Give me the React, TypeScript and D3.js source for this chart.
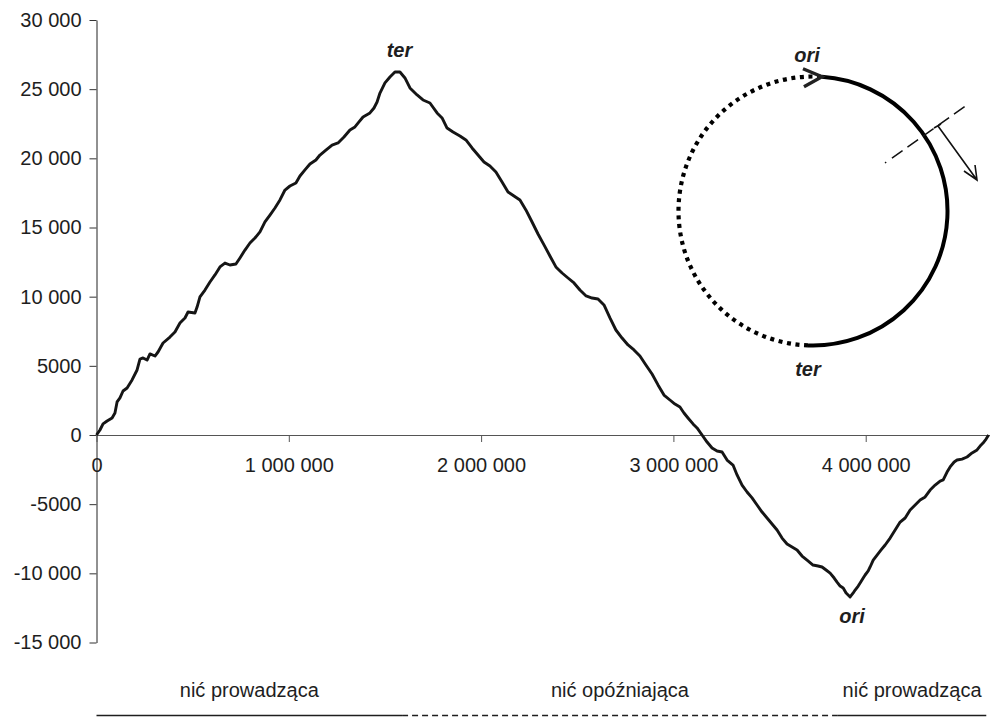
import React, { useEffect, useRef } from "react";
import * as d3 from "d3";

// cumulative GC skew along the genome (position in kb, skew value)
const positionKb = [
  0, 18, 34, 55, 81, 96, 107, 122, 138, 159, 185, 211, 226, 242, 263, 278, 304, 320, 346, 382,
  408, 434, 460, 476, 512, 523, 538, 564, 590, 616, 642, 668, 694, 725, 746, 772, 798, 824, 850, 876,
  902, 928, 954, 980, 1006, 1037, 1058, 1084, 1110, 1141, 1162, 1193, 1225, 1256, 1287, 1318, 1344, 1365, 1386, 1422,
  1443, 1459, 1474, 1500, 1526, 1552, 1578, 1604, 1630, 1667, 1698, 1734, 1771, 1797, 1823, 1854, 1890, 1921, 1953, 1984,
  2015, 2046, 2077, 2109, 2140, 2171, 2202, 2233, 2265, 2296, 2327, 2358, 2389, 2421, 2452, 2483, 2514, 2546, 2577, 2608,
  2639, 2670, 2701, 2733, 2764, 2795, 2826, 2857, 2889, 2920, 2951, 2982, 3008, 3034, 3055, 3076, 3102, 3123, 3149, 3175,
  3201, 3227, 3253, 3279, 3310, 3331, 3357, 3383, 3409, 3435, 3461, 3487, 3513, 3539, 3565, 3591, 3617, 3643, 3669, 3695,
  3726, 3752, 3773, 3794, 3815, 3836, 3851, 3867, 3883, 3898, 3919, 3935, 3945, 3961, 3971, 3987, 3997, 4013, 4023, 4039,
  4059, 4080, 4101, 4127, 4153, 4179, 4205, 4231, 4257, 4283, 4309, 4335, 4361, 4387, 4403, 4423, 4439, 4460, 4475, 4501,
  4527, 4553, 4579, 4600, 4610, 4626, 4639,
];
const skew = [
  0, 360, 800, 1010, 1230, 1590, 2390, 2680, 3180, 3400, 3980, 4700, 5490, 5570, 5420, 5860, 5710, 6000, 6650, 7080,
  7450, 8100, 8460, 8890, 8820, 9250, 9980, 10480, 11060, 11570, 12150, 12430, 12290, 12360, 12800, 13370, 13880, 14240, 14680, 15400,
  15900, 16410, 16990, 17710, 18000, 18220, 18720, 19160, 19590, 19880, 20240, 20600, 20960, 21110, 21540, 22050, 22270, 22630, 22990, 23280,
  23640, 24070, 24720, 25450, 25880, 26240, 26240, 25810, 25090, 24580, 24220, 24000, 23280, 22920, 22190, 21900, 21620, 21330, 20750, 20240,
  19740, 19450, 19010, 18290, 17570, 17280, 16990, 16270, 15400, 14530, 13740, 12940, 12150, 11710, 11350, 10990, 10480, 10050, 9900, 9830,
  9400, 8460, 7590, 7010, 6510, 6150, 5710, 5060, 4410, 3620, 2890, 2530, 2240, 2020, 1590, 1230, 800, 510, 0, -510,
  -940, -1160, -1230, -1810, -2170, -2890, -3620, -4120, -4550, -5060, -5570, -6000, -6430, -6870, -7450, -7880, -8100, -8310, -8750, -9040,
  -9400, -9470, -9540, -9760, -9980, -10340, -10630, -10920, -11060, -11420, -11710, -11420, -11210, -10920, -10700, -10340, -10120, -9830, -9540, -9040,
  -8680, -8310, -7950, -7450, -6870, -6290, -6000, -5420, -5060, -4700, -4480, -3980, -3620, -3330, -3250, -2680, -2310, -1950, -1810, -1740,
  -1590, -1300, -1080, -720, -580, -290, 0,
];

const yTicks = [-15000, -10000, -5000, 0, 5000, 10000, 15000, 20000, 25000, 30000];
const xTicksKb = [0, 1000, 2000, 3000, 4000];

// strands under the chart: [start kb, end kb, label, dashed]
const strandStart = [0, 1589, 3855];
const strandEnd = [1589, 3855, 4627];
const strandLabels = ["nić prowadząca", "nić opóźniająca", "nić prowadząca"];
const strandDashed = [false, true, false];

// labels at the extremes of the curve
const extremeKb = [1565, 3919];
const extremeSkew = [26240, -11710];
const extremeLabels = ["ter", "ori"];

const FONT = "'Liberation Sans', Arial, sans-serif";
const INK = "#1e1e1e";

// Polish style: no separator for 4-digit numbers
function fmt(v: number) {
  const a = Math.abs(v);
  let s = a.toString();
  if (a >= 10000) s = s.replace(/\B(?=(\d{3})+(?!\d))/g, " ");
  return (v < 0 ? "-" : "") + s;
}

function App() {
  const svgRef = useRef<SVGSVGElement>(null);

  useEffect(() => {
    const svg = d3.select(svgRef.current);
    svg.selectAll("*").remove();

    const xScale = d3.scaleLinear().domain([0, 4650]).range([96.5, 990.7]);
    const yScale = d3.scaleLinear().domain([-15000, 30000]).range([642.5, 20]);

    // y axis
    const yAxis = d3
      .axisLeft(yScale)
      .tickValues(yTicks)
      .tickFormat((d) => fmt(+d))
      .tickSize(7)
      .tickSizeOuter(0)
      .tickPadding(8);
    const gy = svg.append("g").attr("transform", "translate(96.5,0)").call(yAxis);
    gy.selectAll("text").attr("font-size", 20).attr("font-family", FONT).attr("fill", INK);
    gy.selectAll("line").attr("stroke", "#333");
    gy.select(".domain").attr("stroke", "#222");

    // x axis on the zero line
    const xAxis = d3
      .axisBottom(xScale)
      .tickValues(xTicksKb)
      .tickFormat((d) => fmt(+d * 1000))
      .tickSize(7)
      .tickSizeOuter(0)
      .tickPadding(16);
    const gx = svg.append("g").attr("transform", `translate(0,${yScale(0)})`).call(xAxis);
    gx.selectAll("text").attr("font-size", 20).attr("font-family", FONT).attr("fill", INK);
    gx.selectAll("line").attr("stroke", "#555");
    gx.select(".domain").attr("stroke", "#555");

    // skew curve
    const pts = d3.range(Math.min(positionKb.length, skew.length)).map((i) => [positionKb[i], skew[i]]);
    const lineGen = d3
      .line<number[]>()
      .x((d) => xScale(d[0]))
      .y((d) => yScale(d[1]));
    svg
      .append("path")
      .datum(pts)
      .attr("d", lineGen)
      .attr("fill", "none")
      .attr("stroke", "#151515")
      .attr("stroke-width", 2.9)
      .attr("stroke-linejoin", "round");

    // ter / ori labels on the curve
    svg
      .selectAll(".ext")
      .data(extremeLabels)
      .join("text")
      .attr("class", "ext")
      .attr("x", (d, i) => xScale(extremeKb[i]) + 2)
      .attr("y", (d, i) => yScale(extremeSkew[i]) + (extremeSkew[i] > 0 ? -15 : 26))
      .attr("text-anchor", "middle")
      .attr("font-family", FONT)
      .attr("font-size", 20)
      .attr("font-weight", "bold")
      .attr("font-style", "italic")
      .attr("fill", INK)
      .text((d) => d);

    // strand bars at the bottom
    const strands = svg
      .selectAll(".strand")
      .data(strandLabels)
      .join("g")
      .attr("class", "strand");
    strands
      .append("line")
      .attr("x1", (d, i) => xScale(strandStart[i]))
      .attr("x2", (d, i) => xScale(strandEnd[i]))
      .attr("y1", 715.5)
      .attr("y2", 715.5)
      .attr("stroke", INK)
      .attr("stroke-width", 1.6)
      .attr("stroke-dasharray", (d, i) => (strandDashed[i] ? "6 4" : null));
    strands
      .append("text")
      .attr("x", (d, i) => xScale((strandStart[i] + strandEnd[i]) / 2))
      .attr("y", 697)
      .attr("text-anchor", "middle")
      .attr("font-family", FONT)
      .attr("font-size", 20)
      .attr("fill", INK)
      .text((d) => d);

    // chromosome scheme
    const cx = 813,
      cy = 211,
      r = 134.5;
    const aOri = -1.504,
      aTer = 1.608;
    const solid = d3.path();
    solid.arc(cx, cy, r, aOri, aTer);
    svg
      .append("path")
      .attr("d", solid.toString())
      .attr("fill", "none")
      .attr("stroke", "#000")
      .attr("stroke-width", 4);
    const dotted = d3.path();
    dotted.arc(cx, cy, r, aTer, aOri + 2 * Math.PI);
    svg
      .append("path")
      .attr("d", dotted.toString())
      .attr("fill", "none")
      .attr("stroke", "#000")
      .attr("stroke-width", 4.2)
      .attr("stroke-dasharray", "4 4.6");

    const ox = cx + r * Math.cos(aOri),
      oy = cy + r * Math.sin(aOri);
    svg
      .append("path")
      .attr("d", `M${ox - 19},${oy - 8}L${ox},${oy}L${ox - 18},${oy + 10}`)
      .attr("fill", "none")
      .attr("stroke", "#222")
      .attr("stroke-width", 3.4);

    svg
      .append("text")
      .attr("x", 807)
      .attr("y", 62)
      .attr("text-anchor", "middle")
      .attr("font-family", FONT)
      .attr("font-size", 20)
      .attr("font-weight", "bold")
      .attr("font-style", "italic")
      .attr("fill", INK)
      .text("ori");
    svg
      .append("text")
      .attr("x", 808)
      .attr("y", 376)
      .attr("text-anchor", "middle")
      .attr("font-family", FONT)
      .attr("font-size", 20)
      .attr("font-weight", "bold")
      .attr("font-style", "italic")
      .attr("fill", INK)
      .text("ter");

    // replication fork: dashed line and arrow
    svg
      .append("line")
      .attr("x1", 885)
      .attr("y1", 163)
      .attr("x2", 967)
      .attr("y2", 105)
      .attr("stroke", "#111")
      .attr("stroke-width", 1.5)
      .attr("stroke-dasharray", "1.5 7 13 6 13 6 13 6 13 6 13 6");
    svg
      .append("path")
      .attr("d", "M934,128L941,124M938,126L977,180M964,171L977,180L975,165")
      .attr("fill", "none")
      .attr("stroke", "#111")
      .attr("stroke-width", 1.6);
  }, []);

  return (
    <svg
      ref={svgRef}
      width={990}
      height={717}
      style={{ position: "absolute", left: 0, top: 0, background: "#fff" }}
    />
  );
}

export default App;
